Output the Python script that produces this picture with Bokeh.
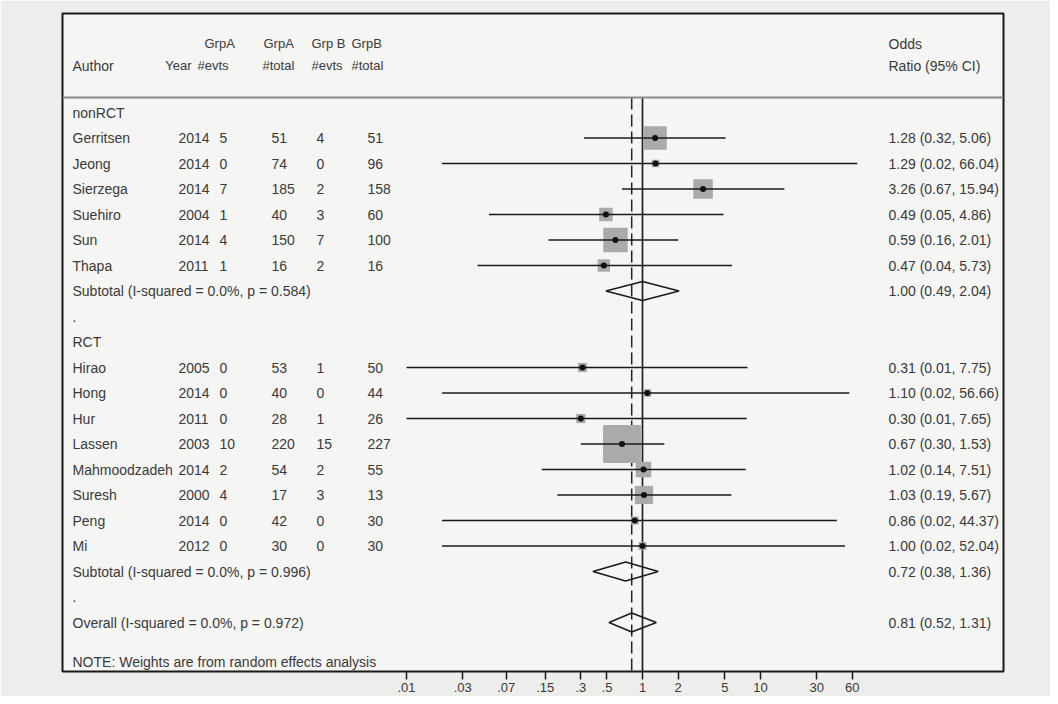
from bokeh.plotting import figure
from bokeh.models import Range1d, FixedTicker, ColumnDataSource, Span, LinearScale
from bokeh.core.properties import value
from bokeh.embed import file_html
from bokeh.resources import INLINE
import math

# ---------------- data ----------------
groups = ["nonRCT", "RCT"]
study_group = ["nonRCT"] * 6 + ["RCT"] * 8
authors = ["Gerritsen", "Jeong", "Sierzega", "Suehiro", "Sun", "Thapa",
           "Hirao", "Hong", "Hur", "Lassen", "Mahmoodzadeh", "Suresh", "Peng", "Mi"]
years = [2014, 2014, 2014, 2004, 2014, 2011, 2005, 2014, 2011, 2003, 2014, 2000, 2014, 2012]
a_evts = [5, 0, 7, 1, 4, 1, 0, 0, 0, 10, 2, 4, 0, 0]
a_total = [51, 74, 185, 40, 150, 16, 53, 40, 28, 220, 54, 17, 42, 30]
b_evts = [4, 0, 2, 3, 7, 2, 1, 0, 1, 15, 2, 3, 0, 0]
b_total = [51, 96, 158, 60, 100, 16, 50, 44, 26, 227, 55, 13, 30, 30]
odds = [1.28, 1.29, 3.26, 0.49, 0.59, 0.47, 0.31, 1.10, 0.30, 0.67, 1.02, 1.03, 0.86, 1.00]
ci_lo = [0.32, 0.02, 0.67, 0.05, 0.16, 0.04, 0.01, 0.02, 0.01, 0.30, 0.14, 0.19, 0.02, 0.02]
ci_hi = [5.06, 66.04, 15.94, 4.86, 2.01, 5.73, 7.75, 56.66, 7.65, 1.53, 7.51, 5.67, 44.37, 52.04]
weights = [12.8, 1.4, 9.0, 4.3, 14.1, 3.6, 2.0, 1.4, 2.0, 33.9, 5.7, 7.8, 1.5, 1.5]

subtotal_labels = ["Subtotal  (I-squared = 0.0%, p = 0.584)",
                   "Subtotal  (I-squared = 0.0%, p = 0.996)"]
subtotal_or = [1.00, 0.72]
subtotal_lo = [0.49, 0.38]
subtotal_hi = [2.04, 1.36]
overall_label = "Overall  (I-squared = 0.0%, p = 0.972)"
overall_or = 0.81
overall_lo = 0.52
overall_hi = 1.31
note_text = "NOTE: Weights are from random effects analysis"

header1 = ["GrpA", "GrpA", "Grp B", "GrpB"]
header2 = ["#evts", "#total", "#evts", "#total"]
year_header = "Year"
author_header = "Author"
or_header = ["Odds", "Ratio (95% CI)"]
tick_values = [0.01, 0.03, 0.07, 0.15, 0.3, 0.5, 1, 2, 5, 10, 30, 60]
tick_labels = [".01", ".03", ".07", ".15", ".3", ".5", "1", "2", "5", "10", "30", "60"]

# ---------------- layout ----------------
W, H = 1050, 696
FL, FR, FT, FB = 62, 1003, 13, 671          # frame edges in page pixels
ROW0, ROWH = 112, 25.5                      # pixel of row 1, row pitch
X1PX, DEC = 642, 118                        # pixel of OR=1, pixels per decade

def prow(px):
    return 1 + (px - ROW0) / ROWH

FONT = value("Liberation Sans")
FS = "14px"
HFS = "13px"
TXT = "#3a3a3a"

p = figure(width=W, height=H, x_axis_type="log",
           x_range=Range1d(10 ** ((FL - X1PX) / DEC), 10 ** ((FR - X1PX) / DEC)),
           y_range=Range1d(prow(FB), prow(FT)),
           output_backend="svg", toolbar_location=None,
           min_border_left=FL, min_border_right=W - FR,
           min_border_top=FT, min_border_bottom=H - FB)
p.extra_x_ranges = {"px": Range1d(FL, FR)}
p.extra_x_scales = {"px": LinearScale()}
p.background_fill_color = "#f5f5f3"
p.border_fill_color = "#ededeb"
p.outline_line_color = "#1a1a1a"
p.outline_line_width = 2
p.grid.visible = False
p.yaxis.visible = False

ax = p.xaxis[0]
ax.ticker = FixedTicker(ticks=tick_values)
ax.major_label_overrides = {v: l for v, l in zip(tick_values, tick_labels)}
ax.minor_tick_line_color = None
ax.major_tick_in = 0
ax.major_tick_out = 8
ax.major_tick_line_width = 1.5
ax.major_tick_line_color = "#1a1a1a"
ax.axis_line_color = None
ax.major_label_standoff = 3
ax.major_label_text_font = "Liberation Sans"
ax.major_label_text_font_size = "13px"
ax.major_label_text_color = TXT

# build rows
rows_text = []   # (row, x, text)  left aligned
study_rows = []
sub_rows = []
r = 1
for gi, g in enumerate(groups):
    rows_text.append((r, 72, g))
    r += 1
    for i, sg in enumerate(study_group):
        if sg != g:
            continue
        study_rows.append(r)
        rows_text += [(r, 72, authors[i]), (r, 178, str(years[i])), (r, 219, str(a_evts[i])),
                      (r, 271, str(a_total[i])), (r, 316, str(b_evts[i])), (r, 367, str(b_total[i])),
                      (r, 888, "%.2f (%.2f, %.2f)" % (odds[i], ci_lo[i], ci_hi[i]))]
        r += 1
    sub_rows.append(r)
    rows_text += [(r, 72, subtotal_labels[gi]),
                  (r, 888, "%.2f (%.2f, %.2f)" % (subtotal_or[gi], subtotal_lo[gi], subtotal_hi[gi]))]
    r += 1
    rows_text.append((r, 72, "."))
    r += 1
overall_row = r
rows_text += [(r, 72, overall_label),
              (r, 888, "%.2f (%.2f, %.2f)" % (overall_or, overall_lo, overall_hi))]
rows_text.append((prow(661), 72, note_text))

# header
h1y, h2y = prow(43), prow(65)
rows_text += [(h2y, 72, author_header), (h1y, 888, or_header[0]), (h2y, 888, or_header[1])]
head_l = []
for x, t in zip([204, 263, 311, 351], header1):
    head_l.append((h1y, x, t))
for x, t in zip([197, 262, 311, 351], header2):
    head_l.append((h2y, x, t))

sep_y = prow(97)
p.add_layout(Span(location=sep_y, dimension="width", line_color="#8a8a8a", line_width=2))

# reference lines
p.segment(x0=[1], x1=[1], y0=[sep_y], y1=[prow(FB)], line_color="#222222", line_width=1.7)
p.segment(x0=[overall_or], x1=[overall_or], y0=[sep_y], y1=[prow(FB)],
          line_color="#222222", line_width=1.5, line_dash="12 5")

# study markers
src = ColumnDataSource(dict(x=odds, lo=ci_lo, hi=ci_hi, y=study_rows,
                            s=[6.5 * math.sqrt(w) for w in weights]))
p.scatter("x", "y", size="s", marker="square", source=src, fill_color="#aaaaaa",
          line_color=None)
p.segment(x0="lo", x1="hi", y0="y", y1="y", source=src, line_color="#1a1a1a", line_width=1.6)
p.scatter("x", "y", size=6, marker="circle", source=src, fill_color="#111111",
          line_color=None)

# diamonds
dh = 0.37
d_or = subtotal_or + [overall_or]
d_lo = subtotal_lo + [overall_lo]
d_hi = subtotal_hi + [overall_hi]
d_y = sub_rows + [overall_row]
p.patches(xs=[[l, o, h, o] for l, o, h in zip(d_lo, d_or, d_hi)],
          ys=[[y, y - dh, y, y + dh] for y in d_y],
          fill_color=None, line_color="#1a1a1a", line_width=1.5)

tsrc = ColumnDataSource(dict(y=[t[0] for t in rows_text], x=[t[1] for t in rows_text],
                             t=[t[2] for t in rows_text]))
p.text("x", "y", text="t", source=tsrc, x_range_name="px", text_font=FONT,
       text_font_size=FS, text_color=TXT, text_baseline="middle", text_align="left")
hsrc = ColumnDataSource(dict(y=[t[0] for t in head_l], x=[t[1] for t in head_l],
                             t=[t[2] for t in head_l]))
p.text("x", "y", text="t", source=hsrc, x_range_name="px", text_font=FONT,
       text_font_size=HFS, text_color=TXT, text_baseline="middle", text_align="left")
p.text(x=[191], y=[h2y], text=[year_header], x_range_name="px", text_font=FONT,
       text_font_size=HFS, text_color=TXT, text_baseline="middle", text_align="right")

open("out.html", "w").write(file_html(p, INLINE))
